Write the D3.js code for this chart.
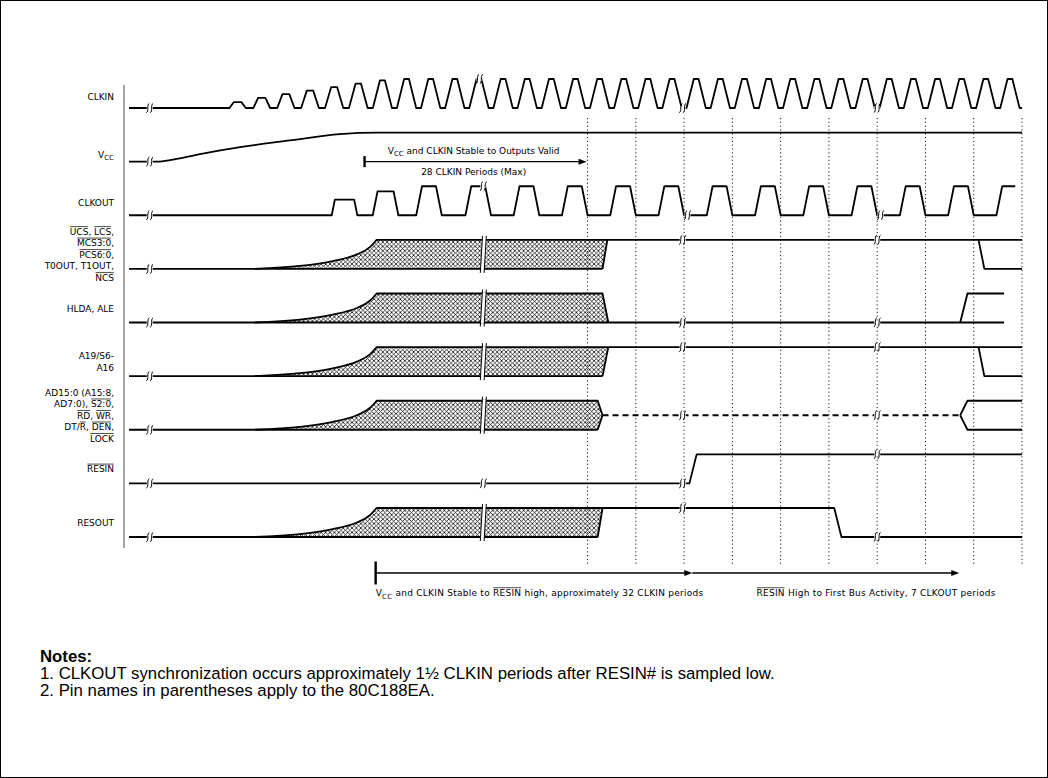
<!DOCTYPE html>
<html>
<head>
<meta charset="utf-8">
<script src="https://cdn.jsdelivr.net/npm/d3@7"></script>
<style>
  body { margin: 0; background: #fff; }
  svg { display: block; }
</style>
</head>
<body>
<svg id="chart" width="1048" height="778"></svg>
<script>
// ── Data ───────────────────────────────────────────────────────────────────
// time axis is in CLKOUT periods, 0 = "outputs valid"
const T_START = -9.5, T_END = 9.0;

const rowNames = ["CLKIN", "VCC", "CLKOUT", "UCS", "HLDA", "A19", "AD", "RESIN", "RESOUT"];

// label lines; segment flag "o" = overline, "s" = subscript
const rowLabels = [
    [[["CLKIN"]]],
    [[["V"], ["CC", "s"]]],
    [[["CLKOUT"]]],
    [[["UCS", "o"], [", "], ["LCS", "o"], [","]],
     [["MCS3:0", "o"], [","]],
     [["PCS6:0", "o"], [","]],
     [["T0OUT, T1OUT,"]],
     [["NCS", "o"]]],
    [[["HLDA, ALE"]]],
    [[["A19/S6-"]], [["A16"]]],
    [[["AD15:0 (A15:8,"]],
     [["AD7:0), "], ["S2:0", "o"], [","]],
     [["RD", "o"], [", "], ["WR", "o"], [","]],
     [["DT/"], ["R", "o"], [", "], ["DEN", "o"], [","]],
     [["LOCK", "o"]]],
    [[["RESIN", "o"]]],
    [[["RESOUT"]]]
];

const gridTimes = [0, 1, 2, 3, 4, 5, 6, 7, 8, 9];

// CLKIN: oscillator start-up, amplitude of first cycles, then full swing
const clkinStart  = -7.5;
const clkinPeriod = 0.5;
const clkinRamp   = [0.2, 0.35, 0.48, 0.6, 0.72, 0.84, 0.95];
const clkinBreaks = [-9.07, -2.24, 1.97, 6.0];

// VCC ramp
const vccPoints = [[-9.5, 0], [-8.92, 0], [-8.59, 0.07], [-7.89, 0.3], [-7.2, 0.5],
                   [-6.17, 0.73], [-5.13, 0.95], [-4.37, 1], [9.0, 1]];
const vccBreaks = [-9.07];

// CLKOUT pulses (rise start, amplitude)
const clkoutRise = [-5.30, -4.45, -3.55, -2.53, -1.53, -0.53, 0.47, 1.47, 2.47,
                    3.47, 4.47, 5.47, 6.47, 7.47, 8.47];
const clkoutAmp  = [0.54, 0.82, 1, 1, 1, 1, 1, 1, 1, 1, 1, 1, 1, 1, 1];
const clkoutEnd  = 8.86;
const clkoutBreaks = [-9.07, -2.16, 2.07, 6.07];

// bus outputs: unknown (hatched) until outputs valid
const hatchRise   = [[-6.9, 0], [-5.96, 0.1], [-5.28, 0.27], [-4.78, 0.5], [-4.51, 0.75], [-4.37, 1]];
const hatchRows   = ["UCS", "HLDA", "A19", "AD", "RESOUT"];
const hatchTopEnd = [0.41, 0.31, 0.43, 0.21, 0.31];
const hatchBotEnd = [0.31, 0.43, 0.31, 0.21, 0.21];
const hatchTipEnd = [null, null, null, 0.31, null];
const busBreaks   = [-9.07, -2.16, 1.97, 6.0];

// traces after outputs valid (first one carries the break marks)
const ucsAfter    = [[[0.41, 1], [9, 1]], [[8.10, 1], [8.22, 0], [9, 0]]];
const hldaAfter   = [[[0.43, 0], [8.63, 0]], [[7.72, 0], [7.87, 1], [8.63, 1]]];
const a19After    = [[[0.43, 1], [9, 1]], [[8.10, 1], [8.22, 0], [9, 0]]];
const adAfter     = [[[7.72, 0.5], [7.87, 1], [9, 1]], [[7.72, 0.5], [7.87, 0], [9, 0]]];
const adFloat     = [[0.31, 0.5], [7.72, 0.5]];
const resoutAfter = [[[0.31, 1], [5.11, 1], [5.26, 0], [9, 0]]];

// RESIN
const resinPoints = [[-9.5, 0], [2.11, 0], [2.26, 1], [9, 1]];
const resinBreaks = [-9.07, -2.16, 1.97, 6.0];

// timing spans
const validSpan  = [-4.62, 0];
const validTextT = -2.36;
const resetSpans = [[-4.39, 2.17], [2.17, 7.70]];
const resetTextT = [-4.39, 3.5];

const notes = [
    "1. CLKOUT synchronization occurs approximately 1\u00BD CLKIN periods after RESIN# is sampled low.",
    "2. Pin names in parentheses apply to the 80C188EA."
];

// ── Setup ──────────────────────────────────────────────────────────────────
const W = 1048, H = 778;
const FONT = "'DejaVu Sans', sans-serif";
const FS = 9;
const AMP = 29;
const LW = 1.8;

const svg = d3.select("#chart");

svg.append("rect")
    .attr("x", 0.5).attr("y", 0.5)
    .attr("width", W - 1).attr("height", H - 1)
    .attr("fill", "#fff").attr("stroke", "#000").attr("stroke-width", 1);

const x = d3.scaleLinear().domain([T_START, T_END]).range([129, 1022]);
const rowY = d3.scalePoint().domain(rowNames).range([108, 537]);
const yAt = (row, lv) => rowY(row) - lv * AMP;
const lineFor = row => d3.line().x(d => x(d[0])).y(d => yAt(row, d[1]));

const defs = svg.append("defs");
const pat = defs.append("pattern")
    .attr("id", "xhatch")
    .attr("patternUnits", "userSpaceOnUse")
    .attr("width", 4.4).attr("height", 4.4);
pat.append("path")
    .attr("d", "M0,0L4.4,4.4M4.4,0L0,4.4")
    .attr("stroke", "#111").attr("stroke-width", 0.8);

// helpers
function clip(pts, tEnd) {
    const out = [];
    for (let i = 0; i < pts.length; i++) {
        const p = pts[i];
        if (p[0] <= tEnd) { out.push(p); continue; }
        const q = pts[i - 1];
        const f = (tEnd - q[0]) / (p[0] - q[0]);
        out.push([tEnd, q[1] + f * (p[1] - q[1])]);
        break;
    }
    return out;
}

function levelAt(pts, t) {
    for (let i = 1; i < pts.length; i++) {
        const a = pts[i - 1], b = pts[i];
        if (t >= a[0] && t <= b[0]) {
            if (b[0] === a[0]) return b[1];
            return a[1] + (t - a[0]) / (b[0] - a[0]) * (b[1] - a[1]);
        }
    }
    return pts[pts.length - 1][1];
}

function richText(g, tx, ty, segs, anchor, fs) {
    const t = g.append("text")
        .attr("x", tx).attr("y", ty)
        .attr("text-anchor", anchor);
    let idx = 0, sub = false;
    const over = [];
    segs.forEach(([s, f]) => {
        const sp = t.append("tspan").text(s);
        if (f === "s") { sp.attr("font-size", fs * 0.78).attr("dy", 2.5); sub = true; }
        else if (sub) { sp.attr("dy", -2.5); sub = false; }
        if (f === "o") over.push([idx, idx + s.length - 1]);
        idx += s.length;
    });
    const node = t.node();
    over.forEach(([a, b]) => {
        const e1 = node.getExtentOfChar(a), e2 = node.getExtentOfChar(b);
        g.append("line")
            .attr("x1", e1.x + 0.3).attr("x2", e2.x + e2.width - 0.3)
            .attr("y1", ty - fs * 0.92).attr("y2", ty - fs * 0.92)
            .attr("stroke", "#000").attr("stroke-width", 0.7);
    });
    return t;
}

function breakMark(g, cx, cy) {
    g.append("rect")
        .attr("x", cx - 3).attr("y", cy - 1.8)
        .attr("width", 6).attr("height", 3.6)
        .attr("fill", "#fff");
    [-1.9, 1.9].forEach(o => {
        const c = cx + o;
        g.append("path")
            .attr("d", `M${c - 1.5},${cy + 4.6} C${c + 1.4},${cy + 3.6} ${c - 1.4},${cy - 3.6} ${c + 1.5},${cy - 4.6}`)
            .attr("fill", "none").attr("stroke", "#000").attr("stroke-width", 1);
    });
}

function hatchBreak(g, cx, yT, yB) {
    g.append("polygon")
        .attr("points", `${cx - 1},${yT - 1} ${cx + 3},${yT - 1} ${cx + 1},${yB + 1} ${cx - 3},${yB + 1}`)
        .attr("fill", "#fff");
    [-1.9, 1.9].forEach(o => {
        g.append("line")
            .attr("x1", cx + o + 1.1).attr("y1", yT - 4)
            .attr("x2", cx + o - 1.1).attr("y2", yB + 4)
            .attr("stroke", "#000").attr("stroke-width", 1);
    });
}

function arrowHead(g, tipX, y) {
    g.append("path")
        .attr("d", `M${tipX},${y} L${tipX - 8},${y - 3} L${tipX - 8},${y + 3} Z`)
        .attr("fill", "#000");
}

// ── Axis line + labels ─────────────────────────────────────────────────────
svg.append("line")
    .attr("x1", 124).attr("x2", 124)
    .attr("y1", 85).attr("y2", 548)
    .attr("stroke", "#a3a3a3").attr("stroke-width", 2);

const labelShift = [3, 7, 2, 0, 0, 0, 0, 0, 0];
const labelG = svg.append("g")
    .attr("font-family", FONT).attr("font-size", FS).attr("fill", "#000");

rowNames.forEach((r, i) => {
    const lines = rowLabels[i];
    const cy = rowY(r) - 14 + labelShift[i];
    lines.forEach((segs, j) => {
        const by = cy + (j - (lines.length - 1) / 2) * 11.5 + 3;
        richText(labelG, 114, by, segs, "end", FS);
    });
});

// ── Grid (CLKOUT periods) ──────────────────────────────────────────────────
svg.append("g").selectAll("line")
    .data(gridTimes)
    .join("line")
    .attr("x1", d => x(d)).attr("x2", d => x(d))
    .attr("y1", 118).attr("y2", 565)
    .attr("stroke", "#000").attr("stroke-width", 0.9)
    .attr("stroke-dasharray", "1.2,2.6");

const waveG = svg.append("g")
    .attr("fill", "none").attr("stroke", "#000")
    .attr("stroke-width", LW).attr("stroke-linejoin", "round");
const markG = svg.append("g");

function drawTrace(row, pts, dashed) {
    const p = waveG.append("path").attr("d", lineFor(row)(pts));
    if (dashed) p.attr("stroke-dasharray", "6,4");
    return p;
}

// CLKIN
const clkinPts = [[T_START, 0]];
for (let k = 0; clkinStart + k * clkinPeriod < T_END; k++) {
    const t0 = clkinStart + k * clkinPeriod;
    const a = k < clkinRamp.length ? clkinRamp[k] : 1;
    const e = clkinPeriod * (0.14 + 0.16 * a);
    clkinPts.push([t0 + 0.25 * clkinPeriod - e / 2, 0], [t0 + 0.25 * clkinPeriod + e / 2, a],
                  [t0 + 0.75 * clkinPeriod - e / 2, a], [t0 + 0.75 * clkinPeriod + e / 2, 0]);
}
clkinPts.push([T_END, 0]);
drawTrace("CLKIN", clkinPts);
clkinBreaks.forEach(t => breakMark(markG, x(t), yAt("CLKIN", levelAt(clkinPts, t))));

// VCC
waveG.append("path")
    .attr("d", d3.line().curve(d3.curveMonotoneX)
        .x(d => x(d[0])).y(d => yAt("VCC", d[1]))(vccPoints));
vccBreaks.forEach(t => breakMark(markG, x(t), yAt("VCC", levelAt(vccPoints, t))));

// CLKOUT
let clkoutPts = [[T_START, 0]];
clkoutRise.forEach((r, i) => {
    const a = clkoutAmp[i];
    const e = 0.12 * a;
    clkoutPts.push([r, 0], [r + e, a], [r + 0.53 - e, a], [r + 0.53, 0]);
});
clkoutPts = clip(clkoutPts, clkoutEnd);
drawTrace("CLKOUT", clkoutPts);
clkoutBreaks.forEach(t => breakMark(markG, x(t), yAt("CLKOUT", levelAt(clkoutPts, t))));

// hatched bus rows
const afterTraces = [ucsAfter, hldaAfter, a19After, adAfter, resoutAfter];

hatchRows.forEach((row, j) => {
    const topEnd = hatchTopEnd[j], botEnd = hatchBotEnd[j], tip = hatchTipEnd[j];
    const riseD = d3.line().curve(d3.curveMonotoneX)
        .x(d => x(d[0])).y(d => yAt(row, d[1]))(hatchRise);
    let edge = `L${x(topEnd)},${yAt(row, 1)}`;
    if (tip !== null) edge += `L${x(tip)},${yAt(row, 0.5)}`;
    edge += `L${x(botEnd)},${yAt(row, 0)}`;

    waveG.insert("path", ":first-child")
        .attr("d", riseD + edge + `L${x(hatchRise[0][0])},${yAt(row, 0)}Z`)
        .attr("fill", "url(#xhatch)").attr("stroke", "none");

    waveG.append("path").attr("d", riseD + edge);
    drawTrace(row, [[T_START, 0], [botEnd, 0]]);

    const traces = afterTraces[j];
    traces.forEach(tr => drawTrace(row, tr));
    let main = traces[0];
    if (row === "AD") { drawTrace(row, adFloat, true); main = adFloat; }

    busBreaks.forEach(t => {
        if (t < -9) breakMark(markG, x(t), yAt(row, 0));
        else if (t < topEnd) hatchBreak(markG, x(t), yAt(row, 1), yAt(row, 0));
        else breakMark(markG, x(t), yAt(row, levelAt(main, t)));
    });
});

// RESIN
drawTrace("RESIN", resinPoints);
resinBreaks.forEach(t => breakMark(markG, x(t), yAt("RESIN", levelAt(resinPoints, t))));

// ── Timing annotations ─────────────────────────────────────────────────────
const annG = svg.append("g")
    .attr("font-family", FONT).attr("font-size", FS).attr("fill", "#000");

const ay = rowY("VCC");
annG.append("line")
    .attr("x1", x(validSpan[0])).attr("x2", x(validSpan[0]))
    .attr("y1", ay - 5.5).attr("y2", ay + 5.5)
    .attr("stroke", "#000").attr("stroke-width", 2.4);
annG.append("line")
    .attr("x1", x(validSpan[0])).attr("x2", x(validSpan[1]) - 6)
    .attr("y1", ay).attr("y2", ay)
    .attr("stroke", "#000").attr("stroke-width", 1.3);
arrowHead(annG, x(validSpan[1]) - 1, ay);
richText(annG, x(validTextT), ay - 8, [["V"], ["CC", "s"], [" and CLKIN Stable to Outputs Valid"]], "middle", FS);
richText(annG, x(validTextT), ay + 13, [["28 CLKIN Periods (Max)"]], "middle", FS);

const by = rowY("RESOUT") + 36;
annG.append("line")
    .attr("x1", x(resetSpans[0][0])).attr("x2", x(resetSpans[0][0]))
    .attr("y1", by - 11.5).attr("y2", by + 11.5)
    .attr("stroke", "#000").attr("stroke-width", 2.4);
resetSpans.forEach(([a, b]) => {
    annG.append("line")
        .attr("x1", x(a)).attr("x2", x(b) - 6)
        .attr("y1", by).attr("y2", by)
        .attr("stroke", "#000").attr("stroke-width", 1.3);
    arrowHead(annG, x(b), by);
});
const spanG = annG.append("g").attr("letter-spacing", 0.25);
richText(spanG, x(resetTextT[0]), by + 23,
    [["V"], ["CC", "s"], [" and CLKIN Stable to "], ["RESIN", "o"], [" high, approximately 32 CLKIN periods"]], "start", FS);
richText(spanG, x(resetTextT[1]), by + 23,
    [["RESIN", "o"], [" High to First Bus Activity, 7 CLKOUT periods"]], "start", FS);

// ── Notes ──────────────────────────────────────────────────────────────────
const notesG = svg.append("g")
    .attr("font-family", "'Liberation Sans', Arial, sans-serif")
    .attr("font-size", 16.8).attr("fill", "#000");
notesG.append("text")
    .attr("x", 40).attr("y", 662)
    .attr("font-weight", "bold")
    .text("Notes:");
notesG.selectAll("text.note")
    .data(notes)
    .join("text")
    .attr("class", "note")
    .attr("x", 40)
    .attr("y", (d, i) => 679 + i * 17)
    .text(d => d);
</script>
</body>
</html>
